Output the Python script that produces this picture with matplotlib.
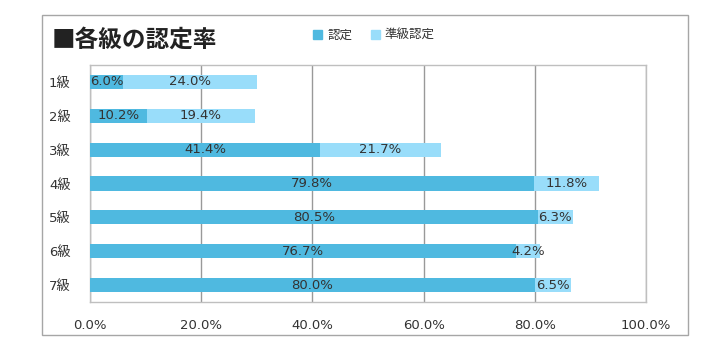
import matplotlib
matplotlib.use('Agg')
import matplotlib.pyplot as plt
import numpy as np
from matplotlib.patches import Rectangle

plt.rcParams['font.family'] = ['DejaVu Sans', 'Noto Sans CJK JP']

grades = ['1級', '2級', '3級', '4級', '5級', '6級', '7級']
nintei = [6.0, 10.2, 41.4, 79.8, 80.5, 76.7, 80.0]
junkyu = [24.0, 19.4, 21.7, 11.8, 6.3, 4.2, 6.5]
xticks = [0, 20, 40, 60, 80, 100]

c1 = '#4fb9e0'
c2 = '#99ddfa'
txt = '#333333'

fig = plt.figure(figsize=(7.22, 3.53), dpi=100)
fig.patches.append(Rectangle((42 / 722, 1 - 335 / 353), 646 / 722, 320 / 353,
                             transform=fig.transFigure, fill=False,
                             edgecolor='#a6a6a6', linewidth=1))
ax = fig.add_axes([90 / 722, 1 - 302 / 353, 556 / 722, 237 / 353])

y = np.arange(len(grades))
ax.barh(y, nintei, height=0.42, color=c1, zorder=3)
ax.barh(y, junkyu, left=nintei, height=0.42, color=c2, zorder=3)

for i in range(len(grades)):
    ax.text(nintei[i] / 2, y[i], f'{nintei[i]:.1f}%', ha='center', va='center',
            fontsize=9.5, color=txt, zorder=4)
    ax.text(nintei[i] + junkyu[i] / 2, y[i], f'{junkyu[i]:.1f}%', ha='center',
            va='center', fontsize=9.5, color=txt, zorder=4)

ax.set_xlim(0, 100)
ax.set_ylim(6.5, -0.5)
ax.set_yticks(y)
ax.set_yticklabels(grades, fontsize=9.5, color=txt)
ax.set_xticks(xticks)
ax.set_xticklabels([f'{v:.1f}%' for v in xticks], fontsize=9.5, color=txt)
ax.tick_params(axis='x', length=0, pad=12)
ax.tick_params(axis='y', length=0, pad=14)
ax.grid(axis='x', color='#999999', linewidth=1, zorder=0)
for s in ax.spines.values():
    s.set_color('#bfbfbf')
    s.set_linewidth(1)

fig.text(52 / 722, 1 - 40 / 353, '■各級の認定率', fontsize=17, fontweight='bold',
         family=['Noto Sans CJK JP', 'DejaVu Sans'],
         color='#222222', va='center', ha='left')

handles = [Rectangle((0, 0), 1, 1, color=c1), Rectangle((0, 0), 1, 1, color=c2)]
fig.legend(handles, ['認定', '準級認定'], loc='center left',
           bbox_to_anchor=(302 / 722, 1 - 35 / 353), ncol=2, frameon=False,
           prop={'family': ['Noto Sans CJK JP'], 'size': 9},
           handlelength=0.7, handleheight=0.7, handletextpad=0.4,
           columnspacing=1.5, labelcolor=txt)

fig.savefig('out.png', dpi=100)
